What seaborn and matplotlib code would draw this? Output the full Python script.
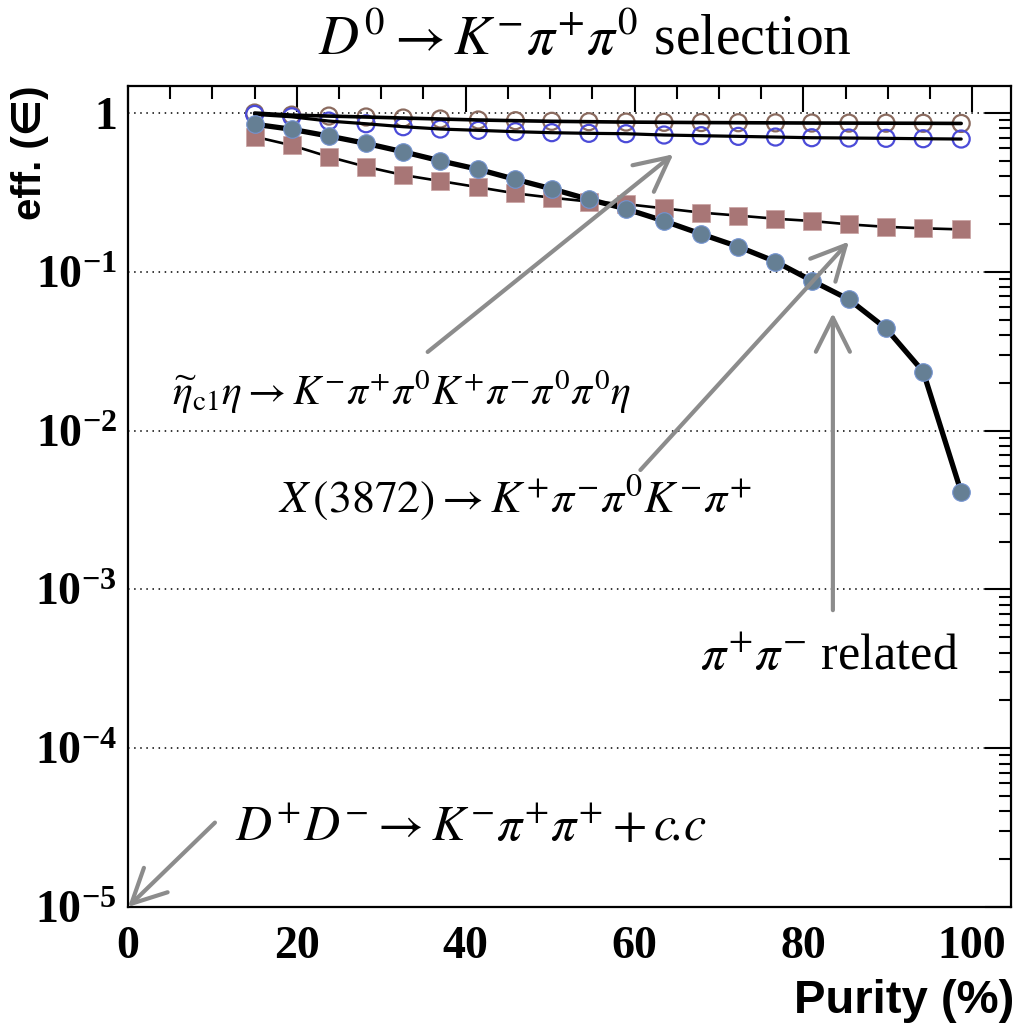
import numpy as np
import pandas as pd
import seaborn as sns
import matplotlib.pyplot as plt
from matplotlib.ticker import FixedLocator, MultipleLocator, LogLocator, FuncFormatter, NullFormatter

# valori
purity = [15.0, 19.4, 23.8, 28.2, 32.6, 37.0, 41.5, 45.9, 50.2, 54.6,
          59.0, 63.5, 67.9, 72.3, 76.7, 81.0, 85.4, 89.8, 94.2, 98.7]
eff_signal = [1.0, 0.97, 0.957, 0.944, 0.93, 0.917, 0.904, 0.895, 0.887, 0.882,
              0.877, 0.874, 0.871, 0.869, 0.867, 0.865, 0.864, 0.863, 0.862, 0.86]
eff_etac1 = [0.98, 0.947, 0.89, 0.856, 0.82, 0.793, 0.778, 0.763, 0.752, 0.745,
             0.741, 0.727, 0.72, 0.713, 0.706, 0.699, 0.696, 0.693, 0.689, 0.686]
eff_x3872 = [0.71, 0.626, 0.53, 0.459, 0.407, 0.373, 0.341, 0.312, 0.293, 0.277,
             0.267, 0.251, 0.236, 0.226, 0.216, 0.209, 0.199, 0.192, 0.188, 0.185]
eff_pipi = [0.85, 0.79, 0.716, 0.644, 0.57, 0.50, 0.442, 0.382, 0.333, 0.286,
            0.249, 0.209, 0.173, 0.144, 0.116, 0.088, 0.067, 0.044, 0.0235, 0.0041]

y_ticks = [1e-5, 1e-4, 1e-3, 1e-2, 1e-1, 1]

# testo, x, y, dimensione
labels = [
    (r"$\widetilde{\eta}_{\rm c1}\eta \rightarrow K^{-}\pi^{+}\pi^{0}K^{+}\pi^{-}\pi^{0}\pi^{0}\eta$", 5.2, 0.0175, 30),
    (r"$X\,(3872) \rightarrow K^{+}\pi^{-}\pi^{0}K^{-}\pi^{+}$", 17.8, 0.0038, 33),
    (r"$\pi^{+}\pi^{-}$ related", 67.8, 3.7e-4, 36),
    (r"$D^{+}D^{-} \rightarrow K^{-}\pi^{+}\pi^{+} + c\!.\!c$", 12.7, 3.1e-5, 36),
]
arrows = [
    ((35.5, 0.0313), (64.6, 0.55)),
    ((60.7, 0.00565), (85.4, 0.155)),
    ((83.5, 7.4e-4), (83.5, 0.055)),
    ((10.3, 3.4e-5), (0.0, 1e-5)),
]

data = pd.DataFrame({
    "purity": purity,
    "signal": eff_signal,
    "etac1": eff_etac1,
    "x3872": eff_x3872,
    "pipi": eff_pipi,
})

sns.set_theme(style="white")
plt.rcParams["font.family"] = ["Liberation Serif", "DejaVu Serif"]
plt.rcParams["mathtext.fontset"] = "stix"
plt.rcParams["text.color"] = "black"
plt.rcParams["axes.labelcolor"] = "black"
plt.rcParams["xtick.color"] = "black"
plt.rcParams["ytick.color"] = "black"

fig = plt.figure(figsize=(10.3, 10.3), dpi=100)
ax = fig.add_axes([128 / 1030, 1 - 907 / 1030, 883 / 1030, 821 / 1030])
ax.set_yscale("log")

# serie con cerchi vuoti: linea sopra i marker
sns.scatterplot(data=data, x="purity", y="signal", ax=ax, marker="o", s=150,
                facecolor="none", edgecolor="#8a6a5e", linewidth=1.6, zorder=3)
sns.lineplot(data=data, x="purity", y="signal", ax=ax, color="black", lw=2.6, zorder=4)
sns.scatterplot(data=data, x="purity", y="etac1", ax=ax, marker="o", s=150,
                facecolor="none", edgecolor="#4b4bd8", linewidth=1.6, zorder=3)
sns.lineplot(data=data, x="purity", y="etac1", ax=ax, color="black", lw=2.3, zorder=4)

# serie piene: marker sopra la linea
sns.lineplot(data=data, x="purity", y="x3872", ax=ax, color="black", lw=1.9, zorder=3)
sns.scatterplot(data=data, x="purity", y="x3872", ax=ax, marker="s", s=150,
                color="#a87676", edgecolor="#c9a3a3", linewidth=0.5, zorder=5)
sns.lineplot(data=data, x="purity", y="pipi", ax=ax, color="black", lw=3.8, zorder=3)
sns.scatterplot(data=data, x="purity", y="pipi", ax=ax, marker="o", s=160,
                color="#657f94", edgecolor="#7393d0", linewidth=0.8, zorder=5)

ax.set_xlim(0, 104.6)
ax.set_ylim(1e-5, 1.48)

# griglia punteggiata solo sulle decadi
for v in y_ticks[1:]:
    ax.axhline(v, color="black", lw=1.1, ls=(0, (1, 3)), zorder=1)

for (tail, head) in arrows:
    ax.annotate("", xy=head, xytext=tail,
                arrowprops=dict(arrowstyle="->,head_length=0.7,head_width=0.35",
                                color="#8c8c8c", lw=3, mutation_scale=35,
                                shrinkA=0, shrinkB=0), zorder=6)

for (txt, x, y, size) in labels:
    ax.text(x, y, txt, fontsize=size, ha="left", va="center", color="black",
            family="Liberation Serif", zorder=7)

# assi stile ROOT
ax.xaxis.set_major_locator(MultipleLocator(20))
ax.xaxis.set_minor_locator(MultipleLocator(5))
ax.yaxis.set_major_locator(FixedLocator(y_ticks))
ax.yaxis.set_minor_locator(LogLocator(base=10, subs=np.arange(2, 10)))
ax.yaxis.set_minor_formatter(NullFormatter())


def fmt_log(v, pos):
    if abs(v - 1) < 1e-9:
        return "1"
    return r"$\mathdefault{10^{%d}}$" % int(round(np.log10(v)))


ax.yaxis.set_major_formatter(FuncFormatter(fmt_log))
ax.tick_params(which="both", direction="in", top=True, right=True, width=1.5, color="black")
ax.tick_params(which="major", length=19)
ax.tick_params(which="minor", length=9)
ax.tick_params(axis="x", which="major", pad=14)
ax.tick_params(axis="y", which="major", pad=8)
for lab in ax.get_xticklabels() + ax.get_yticklabels():
    lab.set_fontfamily("Liberation Serif")
    lab.set_fontweight("bold")
    lab.set_fontsize(33)
    lab.set_color("black")
for sp in ax.spines.values():
    sp.set_visible(True)
    sp.set_color("black")
    sp.set_linewidth(1.6)
ax.grid(False)

ax.set_xlabel("Purity (%)", loc="right", fontsize=34, fontweight="bold",
              family=["Liberation Sans", "DejaVu Sans"], color="black")
ax.xaxis.set_label_coords(1.004, -0.088)
ax.set_ylabel("eff. (\u2208)", loc="top", fontsize=29, fontweight="bold",
              family=["Liberation Sans", "DejaVu Sans"], color="black")
ax.yaxis.set_label_coords(-0.09, 1.0)

fig.text(0.568, 0.960, r"$D^{0} \rightarrow K^{-}\pi^{+}\pi^{0}$ selection",
         fontsize=40, ha="center", va="center", family="Liberation Serif")

fig.savefig("out.png", dpi=100, facecolor="white")
plt.close(fig)
